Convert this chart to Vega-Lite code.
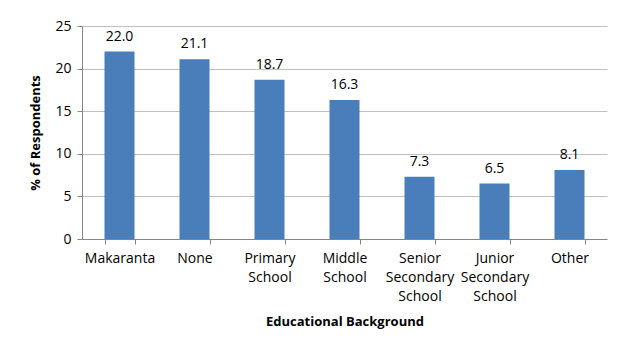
{
  "$schema": "https://vega.github.io/schema/vega-lite/v6.json",
  "width": 525,
  "height": 213,
  "autosize": {"type": "none"},
  "padding": {"left": 82, "top": 26, "right": 12, "bottom": 113},
  "background": "white",
  "data": {
    "values": [
      {"category": "Makaranta", "value": 22.0},
      {"category": "None", "value": 21.1},
      {"category": "Primary School", "value": 18.7},
      {"category": "Middle School", "value": 16.3},
      {"category": "Senior Secondary School", "value": 7.3},
      {"category": "Junior Secondary School", "value": 6.5},
      {"category": "Other", "value": 8.1}
    ]
  },
  "encoding": {
    "x": {
      "field": "category",
      "type": "nominal",
      "sort": null,
      "scale": {"paddingInner": 0.6, "paddingOuter": 0.3},
      "axis": {
        "title": "Educational Background",
        "titleFont": "Open Sans",
        "titleFontSize": 13,
        "titleFontWeight": "bold",
        "titleColor": "#000000",
        "titlePadding": 12,
        "labelAngle": 0,
        "labelFont": "Open Sans",
        "labelFontSize": 14,
        "labelColor": "#000000",
        "labelPadding": 7,
        "labelLineHeight": 19,
        "labelExpr": "datum.label == 'Makaranta' || datum.label == 'None' || datum.label == 'Other' ? datum.label : (datum.label == 'Primary School' ? ['Primary', 'School'] : (datum.label == 'Middle School' ? ['Middle', 'School'] : (datum.label == 'Senior Secondary School' ? ['Senior', 'Secondary', 'School'] : (datum.label == 'Junior Secondary School' ? ['Junior', 'Secondary', 'School'] : ''))))",
        "domainColor": "#868686",
        "tickColor": "#868686",
        "tickBand": "extent",
        "tickSize": 5,
        "grid": false
      }
    },
    "y": {
      "field": "value",
      "type": "quantitative",
      "scale": {"domain": [0, 25]},
      "axis": {
        "title": "% of Respondents",
        "titleFont": "Open Sans",
        "titleFontSize": 13,
        "titleFontWeight": "bold",
        "titleColor": "#000000",
        "titlePadding": 12,
        "values": [0, 5, 10, 15, 20, 25],
        "labelFont": "Open Sans",
        "labelFontSize": 14,
        "labelColor": "#000000",
        "labelPadding": 6,
        "domainColor": "#868686",
        "tickColor": "#868686",
        "tickSize": 5,
        "grid": true,
        "gridColor": "#c0c0c0"
      }
    }
  },
  "layer": [
    {"mark": {"type": "bar", "color": "#4a7ebb"}},
    {
      "mark": {"type": "text", "dy": -15, "font": "Open Sans", "fontSize": 14, "color": "#000000"},
      "encoding": {"text": {"field": "value", "type": "quantitative", "format": ".1f"}}
    }
  ],
  "config": {"view": {"stroke": null}}
}
